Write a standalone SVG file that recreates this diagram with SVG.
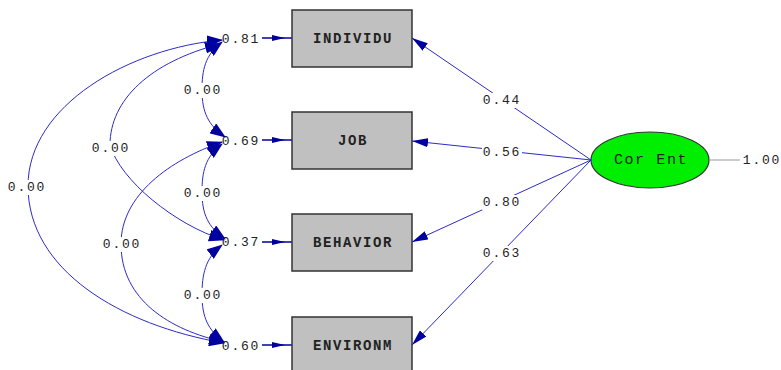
<svg xmlns="http://www.w3.org/2000/svg" width="781" height="370" viewBox="0 0 781 370">
<style>
.box{fill:#c0c0c0;stroke:#333;stroke-width:1.5}
.bt{font-family:"Liberation Mono",monospace;font-size:14px;font-weight:bold;letter-spacing:1.6px;fill:#222;text-anchor:middle;dominant-baseline:central}
.lb{font-family:"Liberation Mono",monospace;font-size:13px;letter-spacing:1.8px;fill:#222;text-anchor:middle;dominant-baseline:central}
.bg{fill:#fff}
.cov{fill:none;stroke:#2b2bc8;stroke-width:1;marker-start:url(#big);marker-end:url(#big)}
.path{fill:none;stroke:#2b2bc8;stroke-width:1;marker-end:url(#arr)}
.err{fill:none;stroke:#0000a0;stroke-width:1.5;marker-end:url(#sm)}
</style>
<defs>
<marker id="big" viewBox="0 0 16 12" refX="15" refY="6" markerWidth="16" markerHeight="12" markerUnits="userSpaceOnUse" orient="auto-start-reverse">
<path d="M0,0 L16,6 L0,12 z" fill="#0000a0"/>
</marker>
<marker id="arr" viewBox="0 0 16 9" refX="16" refY="4.5" markerWidth="16" markerHeight="9" markerUnits="userSpaceOnUse" orient="auto">
<path d="M0,0 L16,4.5 L0,9 z" fill="#0000a0"/>
</marker>
<marker id="sm" viewBox="0 0 20 7" refX="20" refY="3.5" markerWidth="20" markerHeight="7" markerUnits="userSpaceOnUse" orient="auto">
<path d="M0,0.5 L13,3.5 L0,6.5 z" fill="#0000a0"/>
</marker>
</defs>

<g id="errors">
<text class="lb" x="241" y="39">0.81</text>
<text class="lb" x="241" y="141">0.69</text>
<text class="lb" x="241" y="242">0.37</text>
<text class="lb" x="241" y="346">0.60</text>
<line class="err" x1="262" y1="38" x2="292" y2="38"/>
<line class="err" x1="262" y1="140" x2="292" y2="140"/>
<line class="err" x1="262" y1="242" x2="292" y2="242"/>
<line class="err" x1="262" y1="345" x2="292" y2="345"/>
</g>

<g id="individu"><rect class="box" x="292" y="10" width="120" height="57"/><text class="bt" x="353" y="39">INDIVIDU</text></g>
<g id="job"><rect class="box" x="292" y="112" width="120" height="57"/><text class="bt" x="353" y="141">JOB</text></g>
<g id="behavior"><rect class="box" x="292" y="214" width="120" height="57"/><text class="bt" x="353" y="243">BEHAVIOR</text></g>
<g id="environm"><rect class="box" x="292" y="317" width="120" height="57"/><text class="bt" x="353" y="346">ENVIRONM</text></g>

<g id="corent">
<ellipse cx="650" cy="160" rx="59" ry="28" fill="#00ee00" stroke="#333" stroke-width="1.2"/>
<text class="bt" x="651" y="160" style="font-size:15px;font-weight:normal">Cor Ent</text>
<line x1="709" y1="160" x2="740" y2="160" stroke="#999" stroke-width="1"/>
<text class="lb" x="762" y="160">1.00</text>
</g>

<g id="connectors">
<path class="cov" d="M222,40 C130,48 28,105 28,186 C28,270 120,325 224,343"/>
<path class="cov" d="M220,44 C150,62 110,100 110,145 C120,180 175,225 224,240"/>
<path class="cov" d="M222,142 C170,160 121,195 121,244 C121,300 170,330 224,342"/>
<path class="cov" d="M222,42 C205,55 202,70 202,90 C202,112 208,125 225,137"/>
<path class="cov" d="M222,144 C205,157 202,172 202,192 C202,214 208,227 225,239"/>
<path class="cov" d="M222,245 C205,258 202,275 202,295 C202,317 208,330 224,342"/>
<path class="path" d="M591,160 L412,38"/>
<path class="path" d="M591,160 L412,141"/>
<path class="path" d="M591,160 L412,242"/>
<path class="path" d="M591,160 L412,345"/>
<rect class="bg" x="183" y="83" width="40" height="15"/>
<rect class="bg" x="183" y="186" width="40" height="15"/>
<rect class="bg" x="183" y="288" width="40" height="15"/>
<rect class="bg" x="91" y="141" width="40" height="15"/>
<rect class="bg" x="102" y="237" width="40" height="15"/>
<rect class="bg" x="7" y="180" width="40" height="15"/>
<rect class="bg" x="482" y="93" width="40" height="15"/>
<rect class="bg" x="482" y="145" width="40" height="15"/>
<rect class="bg" x="482" y="195" width="40" height="15"/>
<rect class="bg" x="482" y="246" width="40" height="15"/>
<text class="lb" x="203" y="90">0.00</text>
<text class="lb" x="203" y="193">0.00</text>
<text class="lb" x="203" y="295">0.00</text>
<text class="lb" x="111" y="148">0.00</text>
<text class="lb" x="122" y="244">0.00</text>
<text class="lb" x="27" y="187">0.00</text>
<text class="lb" x="502" y="100">0.44</text>
<text class="lb" x="502" y="152">0.56</text>
<text class="lb" x="502" y="202">0.80</text>
<text class="lb" x="502" y="253">0.63</text>
</g>
</svg>
